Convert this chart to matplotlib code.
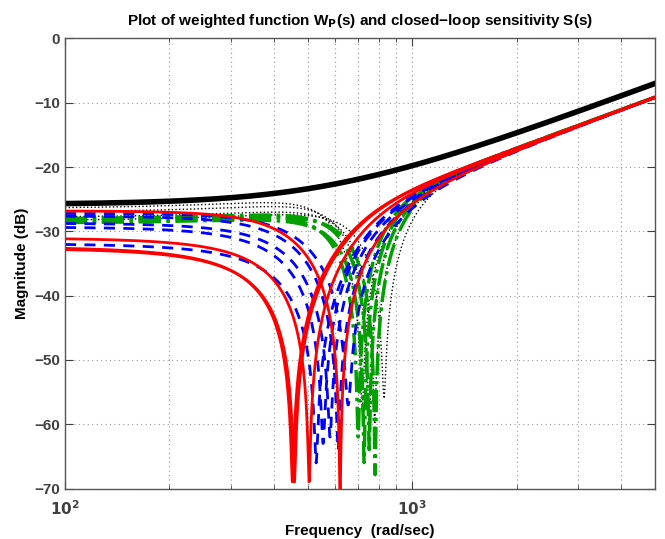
import numpy as np
import matplotlib
matplotlib.use("Agg")
import matplotlib.pyplot as plt
from matplotlib.ticker import FixedLocator, NullFormatter

plt.rcParams['font.family'] = ['Liberation Sans', 'DejaVu Sans']
plt.rcParams['font.weight'] = 'bold'

# ---- data ----
# weight 1/W_P : low-frequency level (dB), corner frequency (rad/s)
wp_low_db = -25.8
wp_corner = 578.0
hf_offset_db = -2.1          # sensitivities sit ~2 dB under the weight at high frequency

# closed-loop sensitivities: low-frequency level (dB), notch frequency (rad/s), notch depth (dB)
red_low = [-32.4, -32.6, -31.0, -26.8]
red_notch = [452, 458, 505, 620]
red_depth = [-69, -69, -69, -72]

blue_low = [-31.9, -29.3, -28.7, -27.6, -27.2]
blue_notch = [529, 554, 580, 612, 654]
blue_depth = [-66, -63, -62, -64, -57]

green_low = [-28.1, -28.7, -28.1, -28.5]
green_notch = [699, 727, 752, 782]
green_depth = [-62, -66, -64, -68]

dot_low = [-26.4, -27.0, -27.8, -28.3]
dot_notch = [718, 752, 780, 830]
dot_depth = [-58, -62, -60, -56]

zeta_red_blue = 0.6
zeta_green_dot = 0.35
w = np.logspace(2, np.log10(5000), 3000)


def weight_db(w):
    return wp_low_db + 10 * np.log10(1 + (w / wp_corner) ** 2)


def sens_db(w, low, wn, depth, zeta):
    base = weight_db(w) + hf_offset_db
    b0 = wp_low_db + hf_offset_db
    wpole = wn * 10 ** ((b0 - low) / 40.0)
    den = wpole ** 2 - w ** 2 + 2j * zeta * wpole * w
    den_n = abs(wpole ** 2 - wn ** 2 + 2j * zeta * wpole * wn)
    b_n = weight_db(wn) + hf_offset_db
    zz = 10 ** ((depth - b_n) / 20.0) * den_n / (2 * wn ** 2)
    num = wn ** 2 - w ** 2 + 2j * zz * wn * w
    return base + 20 * np.log10(np.abs(num) / np.abs(den))


fig = plt.figure(figsize=(6.65, 5.39), dpi=100)
ax = fig.add_axes([0.0977, 0.0935, 0.887, 0.8351])

for lo, wn, d in zip(dot_low, dot_notch, dot_depth):
    ax.semilogx(w, sens_db(w, lo, wn, d, zeta_green_dot), color='black', ls=':', lw=1.0)
for lo, wn, d in zip(green_low, green_notch, green_depth):
    ax.semilogx(w, sens_db(w, lo, wn, d, zeta_green_dot), color='#00a000', ls='-.', lw=2.5)
for lo, wn, d in zip(blue_low, blue_notch, blue_depth):
    ax.semilogx(w, sens_db(w, lo, wn, d, zeta_red_blue), color='#0000ff', ls='--', lw=2.0,
                dashes=(4, 3))
for lo, wn, d in zip(red_low, red_notch, red_depth):
    ax.semilogx(w, sens_db(w, lo, wn, d, zeta_red_blue), color='#ff0000', ls='-', lw=2.0)
ax.semilogx(w, weight_db(w), color='black', lw=4)

ax.set_xlim(100, 5000)
ax.set_ylim(-70, 0)
ax.set_yticks(np.arange(-70, 1, 10))
ax.set_yticklabels(['\u221270', '\u221260', '\u221250', '\u221240', '\u221230', '\u221220',
                    '\u221210', '0'])
ax.xaxis.set_major_locator(FixedLocator([100, 1000]))
ax.set_xticklabels(['$\\mathbf{10^{2}}$', '$\\mathbf{10^{3}}$'])
ax.xaxis.set_minor_locator(FixedLocator([200, 300, 400, 500, 600, 700, 800, 900,
                                         2000, 3000, 4000]))
ax.xaxis.set_minor_formatter(NullFormatter())

ax.grid(True, which='major', axis='both', ls=(0, (1, 3)), color='#999999', lw=0.8)
ax.grid(True, which='minor', axis='x', ls=(0, (1, 3)), color='#999999', lw=0.8)
ax.tick_params(which='both', direction='in', top=True, right=True, colors='#404040',
               labelsize=11, labelcolor='#404040')
ax.tick_params(which='major', length=6)
ax.tick_params(which='minor', length=3)
ax.tick_params(axis='x', pad=8)
for s in ax.spines.values():
    s.set_color('#555555')
    s.set_linewidth(1.0)

ax.set_title('Plot of weighted function W$_\\mathbf{P}$(s) and closed\u2212loop sensitivity S(s)',
             fontsize=11, fontweight='bold', pad=10)
ax.set_xlabel('Frequency  (rad/sec)', fontsize=11, fontweight='bold')
ax.set_ylabel('Magnitude (dB)', fontsize=11, fontweight='bold')

fig.savefig('out.png', dpi=100)
